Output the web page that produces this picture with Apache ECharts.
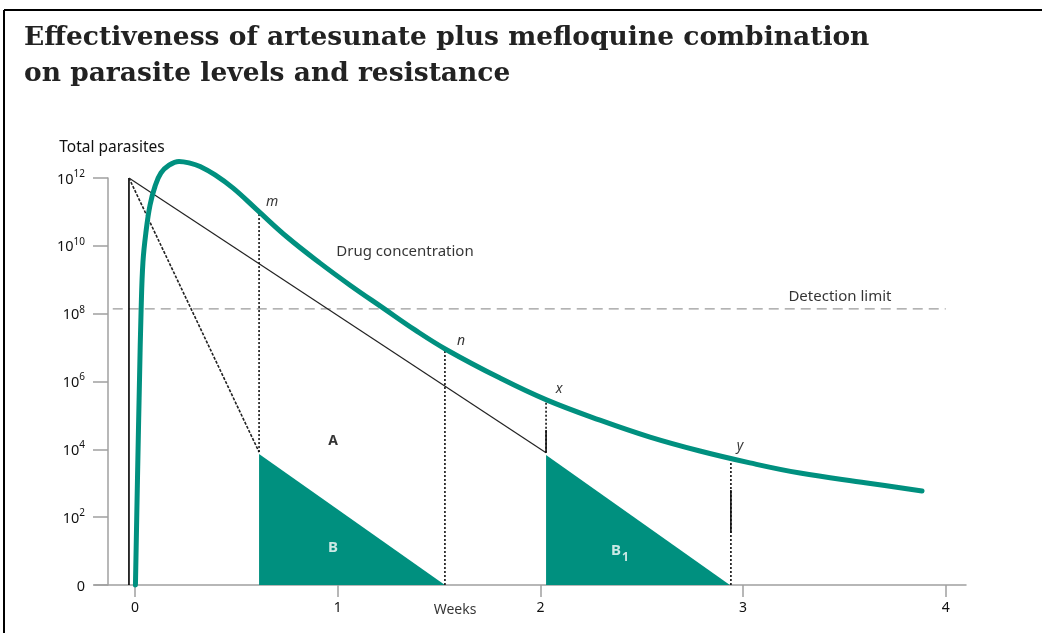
<!DOCTYPE html>
<html>
<head>
<meta charset="utf-8">
<script src="https://cdn.jsdelivr.net/npm/echarts@6/dist/echarts.min.js"></script>
<style>
  html, body { margin: 0; padding: 0; background: #fff; }
  #chart { width: 1042px; height: 633px; }
</style>
</head>
<body>
<div id="chart"></div>
<script>
// x: weeks after treatment starts; y: log10 of total parasites (0 = none)
const xTicks = [0, 1, 2, 3, 4];
const yTicks = [0, 2, 4, 6, 8, 10, 12];
const yTickBase = '10';

// drug concentration curve (weeks, log10 level)
const drugWeeks = [0.002, 0.012, 0.022, 0.030, 0.039, 0.054, 0.074, 0.099, 0.128, 0.168,
  0.217, 0.271, 0.321, 0.395, 0.484, 0.602, 0.750, 0.913, 1.061, 1.223,
  1.381, 1.539, 1.801, 2.033, 2.294, 2.541, 2.787, 3.034, 3.281, 3.611, 3.883];
const drugLevel = [0, 3.10, 6.04, 8.11, 9.52, 10.41, 11.20, 11.76, 12.15, 12.38,
  12.49, 12.44, 12.34, 12.09, 11.70, 11.06, 10.26, 9.49, 8.84, 8.17,
  7.52, 6.93, 6.10, 5.45, 4.86, 4.36, 3.95, 3.60, 3.30, 3.01, 2.77];

// initial parasite load and its decline under each drug
const startWeek = -0.03;
const startLevel = 12;
const artesunateEnd = [0.612, 3.92];
const mefloquineEnd = [2.028, 3.90];

// surviving parasites B and B1 (top corner, then clearance week)
const survivorsB = [[0.612, 3.86], [1.529, 0]];
const survivorsB1 = [[2.028, 3.83], [2.935, 0]];

// detection limit
const detectionLevel = 8.14;
const detectionSpan = [-0.11, 4.0];

// reference points on the drug curve: week, dotted range, solid range
const markerNames = ['m', 'n', 'x', 'y'];
const markerWeeks = [0.612, 1.529, 2.028, 2.940];
const markerFrom = [3.92, 0, 3.90, 0];
const markerTo = [11.0, 6.97, 5.46, 3.73];
const markerSolid = [null, null, [3.90, 4.57], [1.53, 2.80]];
const markerLabelPos = [[0.676, 11.29], [1.608, 7.19], [2.092, 5.78], [2.985, 4.10]];

const TEAL = '#00907f';
const INK = '#111';
const SANS = '"Noto Sans", "Open Sans", sans-serif';

const drugData = drugWeeks.map((w, i) => [w, drugLevel[i]]);

const series = [];

series.push({
  name: 'Detection limit', type: 'line', symbol: 'none', silent: true,
  data: [[detectionSpan[0], detectionLevel], [detectionSpan[1], detectionLevel]],
  lineStyle: { color: '#9a9a9a', width: 1.2, type: [10, 6] }, z: 2
});

[survivorsB, survivorsB1].forEach((d) => {
  series.push({
    type: 'line', symbol: 'none', silent: true, data: d,
    lineStyle: { width: 0 },
    areaStyle: { color: TEAL, opacity: 1 }, z: 3
  });
});

series.push({
  type: 'line', symbol: 'none', silent: true,
  data: [[startWeek, 0], [startWeek, startLevel]],
  lineStyle: { color: '#000', width: 1.6 }, z: 4
});
series.push({
  type: 'line', symbol: 'none', silent: true,
  data: [[startWeek, startLevel], mefloquineEnd],
  lineStyle: { color: '#222', width: 1.2 }, z: 4
});
series.push({
  type: 'line', symbol: 'none', silent: true,
  data: [[startWeek, startLevel], artesunateEnd],
  lineStyle: { color: '#222', width: 1.6, type: [3, 1.5] }, z: 4
});

markerWeeks.forEach((w, i) => {
  series.push({
    type: 'line', symbol: 'none', silent: true,
    data: [[w, markerFrom[i]], [w, markerTo[i]]],
    lineStyle: { color: '#111', width: 1.6, type: [2, 2] }, z: 5
  });
  if (markerSolid[i]) {
    series.push({
      type: 'line', symbol: 'none', silent: true,
      data: [[w, markerSolid[i][0]], [w, markerSolid[i][1]]],
      lineStyle: { color: '#111', width: 1.6 }, z: 5
    });
  }
});

series.push({
  name: 'Drug concentration', type: 'line', symbol: 'none', silent: true,
  smooth: 0.4, clip: false, data: drugData,
  lineStyle: { color: TEAL, width: 5, cap: 'round' }, z: 8
});

// text annotations placed at data positions
const noteItem = (pos, text, style) => ({
  value: pos,
  label: Object.assign({ show: true, position: 'inside', formatter: text,
    fontFamily: SANS, fontSize: 14, color: '#000' }, style)
});
const notes = [];
markerNames.forEach((t, i) => notes.push(noteItem(markerLabelPos[i], t,
  { fontStyle: 'italic', fontSize: 14 })));
notes.push(noteItem([1.332, 9.82], 'Drug concentration', { fontSize: 15 }));
notes.push(noteItem([3.478, 8.49], 'Detection limit', { fontSize: 15 }));
notes.push(noteItem([0.977, 4.25], 'A', { fontWeight: 'bold', fontSize: 14 }));
notes.push(noteItem([0.977, 1.09], 'B', { fontWeight: 'bold', fontSize: 15, color: '#fff' }));
notes.push(noteItem([2.393, 0.94], '{b|B}{s|1}', {
  rich: {
    b: { fontFamily: SANS, fontWeight: 'bold', fontSize: 15, color: '#fff', verticalAlign: 'top', lineHeight: 20 },
    s: { fontFamily: SANS, fontWeight: 'bold', fontSize: 12, color: '#fff', verticalAlign: 'bottom', lineHeight: 14, padding: [6, 0, 0, 1] }
  }
}));
notes.push(noteItem([1.579, -0.74], 'Weeks', { fontSize: 14 }));

series.push({
  type: 'scatter', symbolSize: 1, silent: true, clip: false,
  itemStyle: { color: 'rgba(0,0,0,0)' }, data: notes, z: 10
});

const chart = echarts.init(document.getElementById('chart'), null, { renderer: 'canvas' });
chart.setOption({
  animation: false,
  backgroundColor: '#fff',
  title: {
    text: 'Effectiveness of artesunate plus mefloquine combination\non parasite levels and resistance',
    left: 19, top: 15,
    textStyle: { fontFamily: '"DejaVu Serif", serif', fontWeight: 'bold', fontSize: 26.5, color: '#222', lineHeight: 36 }
  },
  graphic: [
    { type: 'line', shape: { x1: 4, y1: 10, x2: 1042, y2: 10 }, style: { stroke: '#000', lineWidth: 2 } },
    { type: 'line', shape: { x1: 4, y1: 10, x2: 4, y2: 633 }, style: { stroke: '#000', lineWidth: 2 } }
  ],
  grid: { left: 94.5, right: 76, top: 178, bottom: 48, outerBoundsMode: 'none' },
  xAxis: {
    type: 'value', min: -0.2, max: 4.1,
    axisLine: { onZero: false, lineStyle: { color: '#a0a0a0', width: 1.5 } },
    axisTick: { show: true, length: 12, customValues: xTicks, lineStyle: { color: '#a0a0a0', width: 1.5 } },
    axisLabel: { customValues: xTicks, margin: 16, fontFamily: SANS, fontSize: 14, color: INK },
    splitLine: { show: false }
  },
  yAxis: {
    type: 'value', min: 0, max: 12, interval: 2, offset: -13.5,
    name: 'Total parasites', nameLocation: 'end', nameGap: 22,
    nameTextStyle: { fontFamily: SANS, fontSize: 15.5, color: INK, align: 'center', padding: [0, 0, 0, 8] },
    axisLine: { show: true, onZero: false, lineStyle: { color: '#a0a0a0', width: 1.5 } },
    axisTick: { show: true, length: 15, lineStyle: { color: '#a0a0a0', width: 1.5 } },
    axisLabel: {
      margin: 23, fontFamily: SANS, color: INK,
      customValues: yTicks,
      formatter: (v) => v === 0 ? '{b|0}' : '{b|' + yTickBase + '}{s|' + v + '}',
      rich: {
        b: { fontFamily: SANS, fontSize: 14.5, color: INK, lineHeight: 18, verticalAlign: 'bottom' },
        s: { fontFamily: SANS, fontSize: 10, color: INK, lineHeight: 18, verticalAlign: 'top', padding: [0, 0, 6, 0] }
      }
    },
    splitLine: { show: false }
  },
  series: series
});
</script>
</body>
</html>
